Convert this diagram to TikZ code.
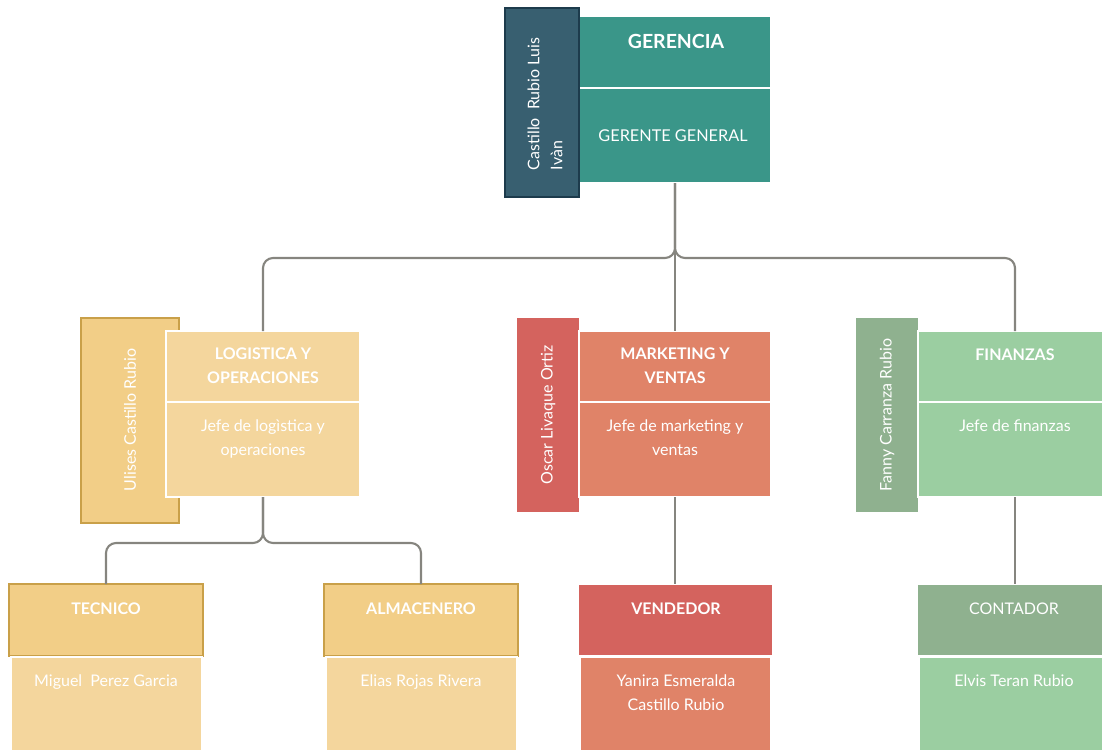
\documentclass[tikz,border=0pt]{standalone}
\usepackage{fontspec}
\setmainfont{Lato}
\usetikzlibrary{fit}

\definecolor{tealmain}{HTML}{3A9689}
\definecolor{tealside}{HTML}{385F70}
\definecolor{tealedge}{HTML}{1D3B4C}
\definecolor{goldside}{HTML}{F2CE87}
\definecolor{goldedge}{HTML}{C9A049}
\definecolor{goldlight}{HTML}{F4D69D}
\definecolor{redside}{HTML}{D4635E}
\definecolor{redmain}{HTML}{E08368}
\definecolor{greenside}{HTML}{8FB18F}
\definecolor{greenmain}{HTML}{9BCEA1}
\definecolor{linegray}{HTML}{86857F}

\begin{document}
\begin{tikzpicture}[x=0.75pt,y=-0.75pt,
  box/.style={inner sep=0pt, outer sep=0pt, line width=1.5pt},
  hd/.style={font=\bfseries\fontsize{12}{17.3}\selectfont, text=white, align=center, anchor=base, inner sep=0pt},
  tx/.style={font=\fontsize{12}{18}\selectfont, text=white, align=center, anchor=base, inner sep=0pt},
  sidetx/.style={font=\fontsize{12}{17.3}\selectfont, text=white, align=left, anchor=center, inner sep=0pt, rotate=90},
  conn/.style={draw=linegray, line width=1.6pt, rounded corners=7.5pt}]
\useasboundingbox (0,0) rectangle (1102,749);
\clip (0,0) rectangle (1102,749);

% ---------- Gerencia ----------
\node[box, fit={(579,16) (771,88)}, fill=tealmain, draw=white] (gtitle) {};
\node[box, fit={(579,88) (771,183)}, fill=tealmain, draw=white] (gbody) {};
\node[box, fit={(505,8) (579,197)}, fill=tealside, draw=tealedge, line width=1.6pt] (gside) {};
\node[hd, font=\bfseries\fontsize{14.6}{17}\selectfont] (gtitletx) at (676,49) {GERENCIA};
\node[tx, font=\fontsize{12.2}{17}\selectfont] (gbodytx) at (673,141) {GERENTE GENERAL};
\node[sidetx] (gsidetx) at (545,104) {Castillo\ \ Rubio Luis\\Ivàn};

% ---------- Logistica ----------
\node[box, fit={(81,318) (179,523)}, fill=goldside, draw=goldedge, line width=1.6pt] (lside) {};
\node[box, fit={(166,331) (360,402)}, fill=goldlight, draw=white] (ltitle) {};
\node[box, fit={(166,402) (360,497)}, fill=goldlight, draw=white] (lbody) {};
\node[hd] (ltitletx) at (263,383) {LOGISTICA Y\\OPERACIONES};
\node[tx] (lbodytx) at (263,455.5) {Jefe de logìstica y\\operaciones};
\node[sidetx] (lsidetx) at (130,420) {Ulises Castillo Rubio};

% ---------- Marketing ----------
\node[box, fit={(517,318) (579,512)}, fill=redside] (mside) {};
\node[box, fit={(579,331) (771,402)}, fill=redmain, draw=white] (mtitle) {};
\node[box, fit={(579,402) (771,497)}, fill=redmain, draw=white] (mbody) {};
\node[hd] (mtitletx) at (675,383) {MARKETING Y\\VENTAS};
\node[tx] (mbodytx) at (675,455.5) {Jefe de marketing y\\ventas};
\node[sidetx] (msidetx) at (548,415) {Oscar Livaque Ortiz};

% ---------- Finanzas ----------
\node[box, fit={(856,318) (918,512)}, fill=greenside] (fside) {};
\node[box, fit={(918,331) (1112,402)}, fill=greenmain, draw=white] (ftitle) {};
\node[box, fit={(918,402) (1112,497)}, fill=greenmain, draw=white] (fbody) {};
\node[hd] (ftitletx) at (1015,360) {FINANZAS};
\node[tx] (fbodytx) at (1015,431.5) {Jefe de finanzas};
\node[sidetx] (fsidetx) at (887,415) {Fanny Carranza Rubio};

% ---------- Puestos ----------
\node[box, fit={(9,584) (203,656)}, fill=goldside, draw=goldedge] (tt) {};
\node[box, fit={(11,657) (202,760)}, fill=goldlight, draw=white] (tb) {};
\node[hd] (tttx) at (106,614) {TECNICO};
\node[tx] (tbtx) at (106,686.5) {Miguel\ \ Perez Garcia};

\node[box, fit={(324,584) (518,656)}, fill=goldside, draw=goldedge] (at) {};
\node[box, fit={(326,657) (517,760)}, fill=goldlight, draw=white] (ab) {};
\node[hd] (attx) at (421,614) {ALMACENERO};
\node[tx] (abtx) at (421,686.5) {Elias Rojas Rivera};

\node[box, fit={(578,584) (773,656)}, fill=redside, draw=white] (vt) {};
\node[box, fit={(580,657) (771,760)}, fill=redmain, draw=white] (vb) {};
\node[hd] (vttx) at (676,614) {VENDEDOR};
\node[tx] (vbtx) at (676,710) {Yanira\ Esmeralda\\Castillo Rubio};

\node[box, fit={(917,584) (1111,656)}, fill=greenside, draw=white] (ct) {};
\node[box, fit={(919,657) (1110,760)}, fill=greenmain, draw=white] (cb) {};
\node[tx] (cttx) at (1014,614) {CONTADOR};
\node[tx] (cbtx) at (1014,686.5) {Elvis Teran\ Rubio};

% ---------- Conectores ----------
\draw[conn] (gbody.south) -- ++(0,75) -| (ltitle.north);
\draw[conn] (gbody.south) -- ++(0,75) -| (ftitle.north);
\draw[conn] (gbody.south) -- (mtitle.north);
\draw[conn] (lbody.south) -- ++(0,46) -| (tt.north);
\draw[conn] (lbody.south) -- ++(0,46) -| (at.north);
\draw[conn] (mbody.south) -- (mbody.south |- vt.north);
\draw[conn] (fbody.south) -- (fbody.south |- ct.north);
\end{tikzpicture}
\end{document}
